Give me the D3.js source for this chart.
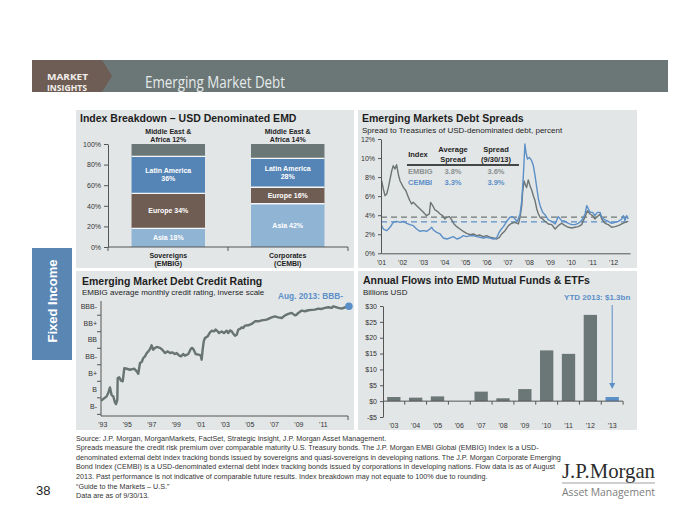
<!DOCTYPE html>
<html><head><meta charset="utf-8">
<script src="https://cdn.jsdelivr.net/npm/d3@7"></script>
<style>body{margin:0;background:#fff}svg{display:block}</style>
</head><body>
<script>
// ---------------- DATA ----------------
const breakdownCategories = ["Sovereigns|(EMBIG)", "Corporates|(CEMBI)"];
const breakdownRegions = ["Asia", "Europe", "Latin America", "Middle East & Africa"];
const asiaShare = [18, 42];
const europeShare = [34, 16];
const latamShare = [36, 28];
const meaShare = [12, 14];
const breakdownTicks = [0, 20, 40, 60, 80, 100];

const embigDates = [2001.03,2001.11,2001.19,2001.27,2001.35,2001.43,2001.51,2001.58,2001.66,2001.74,2001.82,2001.90,2001.98,2002.06,2002.18,2002.30,2002.37,2002.45,2002.53,2002.69,2002.85,2003.01,2003.16,2003.29,2003.35,2003.45,2003.56,2003.67,2003.80,2003.92,2004.03,2004.11,2004.24,2004.35,2004.46,2004.59,2004.74,2004.90,2005.06,2005.22,2005.38,2005.53,2005.69,2005.85,2006.01,2006.17,2006.32,2006.48,2006.61,2006.72,2006.88,2007.04,2007.19,2007.35,2007.51,2007.59,2007.67,2007.71,2007.78,2007.84,2007.90,2007.98,2008.06,2008.14,2008.22,2008.30,2008.38,2008.46,2008.54,2008.66,2008.77,2008.93,2009.09,2009.25,2009.40,2009.56,2009.72,2009.88,2010.04,2010.19,2010.35,2010.51,2010.67,2010.78,2010.91,2011.03,2011.14,2011.25,2011.38,2011.46,2011.62,2011.77,2011.93,2012.09,2012.25,2012.41,2012.56,2012.72];
const embigSpread = [7.62,6.75,6.05,6.22,6.92,7.80,8.67,9.20,8.85,9.30,8.32,7.62,7.27,6.92,6.57,5.87,5.52,5.17,5.35,5.00,4.65,4.30,3.95,4.13,5.35,5.00,4.55,4.41,4.13,3.95,3.60,3.78,3.85,3.50,3.08,2.80,2.55,2.31,2.10,1.96,2.03,1.85,1.92,1.75,1.85,1.68,1.61,1.50,1.68,2.03,2.38,2.90,3.15,3.25,3.08,3.78,5.00,6.40,7.60,7.20,6.90,7.70,7.10,6.64,6.05,5.52,4.65,4.13,3.78,3.60,3.36,3.08,3.01,2.55,2.90,3.15,2.90,2.73,2.66,2.73,2.80,3.01,3.85,4.48,4.13,3.95,3.60,3.85,4.13,3.60,3.15,3.01,2.73,2.80,2.90,3.08,3.25,3.36];
const cembiDates = [2001.03,2001.11,2001.27,2001.43,2001.58,2001.74,2001.90,2002.06,2002.22,2002.37,2002.53,2002.69,2002.85,2003.01,2003.16,2003.32,2003.40,2003.48,2003.64,2003.80,2003.95,2004.11,2004.27,2004.43,2004.59,2004.74,2004.90,2005.06,2005.22,2005.38,2005.53,2005.69,2005.85,2006.01,2006.17,2006.32,2006.48,2006.56,2006.67,2006.80,2006.96,2007.11,2007.24,2007.35,2007.46,2007.59,2007.67,2007.75,2007.82,2007.87,2007.94,2008.03,2008.14,2008.22,2008.30,2008.38,2008.46,2008.54,2008.66,2008.77,2008.93,2009.09,2009.25,2009.40,2009.56,2009.72,2009.88,2010.04,2010.19,2010.35,2010.51,2010.67,2010.75,2010.83,2010.91,2011.03,2011.14,2011.25,2011.38,2011.46,2011.62,2011.77,2011.93,2012.09,2012.25,2012.41,2012.49,2012.56,2012.64,2012.72];
const cembiSpread = [2.90,2.55,2.38,2.73,3.25,3.36,3.25,3.36,3.15,3.01,2.90,2.55,2.31,2.38,2.31,2.55,2.73,2.45,2.20,2.03,1.61,1.50,1.61,1.75,1.50,1.61,1.85,1.75,1.85,1.85,1.75,1.68,1.61,1.68,1.61,1.50,1.61,2.03,2.45,2.80,3.36,3.78,3.85,3.60,3.36,4.13,5.52,8.32,11.47,10.59,9.90,10.07,9.72,9.20,8.15,6.92,5.70,5.00,4.30,4.06,3.50,3.36,3.08,3.85,3.43,3.36,3.15,3.01,3.01,3.15,3.43,4.13,5.00,4.65,4.30,4.30,3.95,4.30,4.30,3.78,3.50,3.36,3.15,3.25,3.36,3.60,3.95,3.43,3.95,3.60];
const spreadAverages = [3.8, 3.3];
const spreadLatest = [3.6, 3.9];
const spreadIndexNames = ["EMBIG", "CEMBI"];
const spreadTicks = [0, 2, 4, 6, 8, 10, 12];
const spreadYears = [2001,2002,2003,2004,2005,2006,2007,2008,2009,2010,2011,2012];
const spreadYearLabels = ["'01","'02","'03","'04","'05","'06","'07","'08","'09","'10","'11","'12"];

const ratingDates = [1993.36,1993.82,1993.95,1994.09,1994.23,1994.36,1994.50,1994.58,1994.69,1994.72,1994.85,1994.99,1995.13,1995.26,1995.46,1995.72,1995.91,1996.08,1996.27,1996.40,1996.54,1996.68,1996.81,1996.95,1997.09,1997.22,1997.36,1997.49,1997.62,1997.76,1997.90,1998.17,1998.36,1998.58,1998.80,1998.99,1999.17,1999.39,1999.53,1999.72,1999.88,2000.07,2000.21,2000.48,2000.70,2000.81,2000.92,2001.08,2001.30,2001.49,2001.57,2001.65,2001.74,2001.84,2002.06,2002.25,2002.39,2002.60,2002.71,2002.88,2002.98,2003.20,2003.39,2003.61,2003.74,2003.88,2004.02,2004.15,2004.29,2004.43,2004.56,2004.70,2004.84,2004.97,2005.10,2005.37,2005.65,2005.92,2006.19,2006.47,2006.87,2007.28,2007.55,2007.82,2008.10,2008.37,2008.64,2008.91,2009.18,2009.32,2009.45,2009.73,2010.00,2010.27,2010.55,2010.81,2011.08,2011.36,2011.63,2011.90,2012.18,2012.31,2012.72,2012.99,2013.26,2013.58];
const ratingValues = [1.32,1.59,1.79,2.13,1.65,1.59,1.22,1.12,1.38,2.70,2.74,2.54,2.50,3.30,3.26,3.20,3.24,3.26,3.10,2.96,3.61,3.67,3.91,4.01,4.21,4.31,4.45,4.68,4.41,4.52,4.58,4.52,4.41,4.21,4.31,4.21,4.25,4.15,4.21,4.07,4.01,4.15,4.05,4.15,4.48,4.52,4.41,4.15,4.11,4.07,3.81,4.41,4.92,5.12,5.22,5.46,5.56,5.52,5.63,5.52,5.42,5.52,5.42,5.56,5.42,5.58,5.52,5.38,5.26,5.32,5.63,5.67,5.77,5.73,5.87,5.89,5.97,6.13,6.13,6.19,6.23,6.37,6.43,6.37,6.33,6.49,6.58,6.64,6.49,6.54,6.64,6.78,6.74,6.80,6.82,6.84,6.90,6.88,6.94,6.98,6.94,7.04,6.94,6.90,6.98,7.04];
const ratingLabels = ["B-", "B", "B+", "BB-", "BB", "BB+", "BBB-"];
const ratingYears = [1993,1995,1997,1999,2001,2003,2005,2007,2009,2011];
const ratingYearLabels = ["'93","'95","'97","'99","'01","'03","'05","'07","'09","'11"];

const flowYears = ["'03","'04","'05","'06","'07","'08","'09","'10","'11","'12","'13"];
const flowValues = [1.3, 1.1, 1.5, 0, 3.0, 0.9, 3.8, 16.0, 14.9, 27.2, 1.3];
const flowTicks = [-5, 0, 5, 10, 15, 20, 25, 30];

const footnoteLines = [
 "Source: J.P. Morgan, MorganMarkets, FactSet, Strategic Insight, J.P. Morgan Asset Management.",
 "Spreads measure the credit risk premium over comparable maturity U.S. Treasury bonds. The J.P. Morgan EMBI Global (EMBIG) Index is a USD-",
 "denominated external debt index tracking bonds issued by sovereigns and quasi-sovereigns in developing nations. The J.P. Morgan Corporate Emerging",
 "Bond Index (CEMBI) is a USD-denominated external debt index tracking bonds issued by corporations in developing nations. Flow data is as of August",
 "2013. Past performance is not indicative of comparable future results. Index breakdown may not equate to 100% due to rounding.",
 "\u201cGuide to the Markets \u2013 U.S.\u201d",
 "Data are as of 9/30/13."
];

// ---------------- STYLE ----------------
const F = "'Liberation Sans', Arial, Helvetica, sans-serif";
const C = {panel:"#e3e6e7", axis:"#555", text:"#1e1e1e", grey:"#6b7776", blue:"#5b8fc7",
  asia:"#8fb4d4", europe:"#6f5d54", latam:"#5585b6", mea:"#6b7776"};

const svg = d3.select("body").append("svg").attr("width",700).attr("height",525);

function T(g, x, y, s, o = {}) {
  const t = g.append("text").attr("x", x).attr("y", y).text(s)
    .attr("font-family", o.family || F).attr("font-size", o.size || 7)
    .attr("font-weight", o.weight || "normal").attr("fill", o.fill || C.text)
    .attr("text-anchor", o.anchor || "start");
  if (o.len) t.attr("textLength", o.len).attr("lengthAdjust", "spacingAndGlyphs");
  return t;
}
function styleAxis(g) {
  g.selectAll("path.domain").attr("stroke", C.axis).attr("stroke-width", 1);
  g.selectAll(".tick line").attr("stroke", C.axis);
  g.selectAll(".tick text").attr("font-family", F).attr("font-size", 7).attr("fill", "#333");
}

// ---------------- HEADER ----------------
svg.append("rect").attr("x",32).attr("y",60).attr("width",636).attr("height",32).attr("fill","#6b7777");
svg.append("polygon").attr("points","32,60 102,60 112,76 102,92 32,92").attr("fill","#6d5d54");
T(svg,47,79.5,"MARKET",{family:"'Open Sans', sans-serif",size:9.5,weight:"bold",fill:"#f3efeb",len:41});
T(svg,47,91,"INSIGHTS",{family:"'Open Sans', sans-serif",size:9.5,weight:"bold",fill:"#f3efeb",len:40});
T(svg,145,88,"Emerging Market Debt",{family:"'Open Sans', sans-serif",size:16,fill:"#e6eaea",len:140});

// side strip
svg.append("rect").attr("x",32).attr("y",248).attr("width",40).attr("height",112).attr("fill","#5a86b4");
svg.append("text").attr("transform","translate(57,301) rotate(-90)").attr("text-anchor","middle")
  .attr("font-family",F).attr("font-size",13).attr("font-weight","bold").attr("fill","#fff").text("Fixed Income");

// panels
[[76,110,278,158],[358,110,279,158],[76,271,278,159],[358,271,279,159]].forEach(p=>{
  svg.append("rect").attr("x",p[0]).attr("y",p[1]).attr("width",p[2]).attr("height",p[3]).attr("fill",C.panel);
});

// ---------------- CHART 1: Index breakdown ----------------
{
  const g = svg.append("g");
  T(g,80,122,"Index Breakdown \u2013 USD Denominated EMD",{size:10.5,weight:"bold"});
  const x = d3.scaleBand().domain(breakdownCategories).range([108,348]).paddingInner(0.385).paddingOuter(0.197);
  const y = d3.scaleLinear().domain([0,100]).range([247,144]);
  const rows = breakdownCategories.map((c,i)=>({cat:c, "Asia":asiaShare[i], "Europe":europeShare[i], "Latin America":latamShare[i], "Middle East & Africa":meaShare[i]}));
  const stack = d3.stack().keys(breakdownRegions)(rows);
  const cols = [C.asia, C.europe, C.latam, C.mea];
  stack.forEach((layer,li)=>{
    g.selectAll(null).data(layer).enter().append("rect")
      .attr("x", d=>x(d.data.cat)).attr("width", x.bandwidth())
      .attr("y", d=>y(d[1])).attr("height", d=>y(d[0])-y(d[1])).attr("fill", cols[li]);
  });
  stack.slice(0,3).forEach(layer=>{
    g.selectAll(null).data(layer).enter().append("line")
      .attr("x1", d=>x(d.data.cat)).attr("x2", d=>x(d.data.cat)+x.bandwidth())
      .attr("y1", d=>y(d[1])).attr("y2", d=>y(d[1])).attr("stroke","#f4f6f7").attr("stroke-width",1.3);
  });
  stack.slice(0,3).forEach((layer,li)=>{
    layer.forEach(d=>{
      const cx = x(d.data.cat)+x.bandwidth()/2, cy = (y(d[0])+y(d[1]))/2;
      const v = d[1]-d[0];
      const o = {size:7,weight:"bold",fill:"#fff",anchor:"middle"};
      if (li===2) { T(g,cx,cy-1.5,breakdownRegions[li],o); T(g,cx,cy+6.5,v+"%",o); }
      else T(g,cx,cy+2.5,breakdownRegions[li]+" "+v+"%",o);
    });
  });
  stack[3].forEach(d=>{
    const cx = x(d.data.cat)+x.bandwidth()/2, v = d[1]-d[0];
    const o = {size:7,weight:"bold",anchor:"middle"};
    T(g,cx,133.5,"Middle East &",o); T(g,cx,141.5,"Africa "+v+"%",o);
  });
  const ya = g.append("g").attr("transform","translate(108,0)")
    .call(d3.axisLeft(y).tickValues(breakdownTicks).tickFormat(d=>d+"%").tickSize(4).tickSizeOuter(0));
  styleAxis(ya);
  g.append("line").attr("x1",108).attr("x2",348).attr("y1",247).attr("y2",247).attr("stroke",C.axis);
  [108, (x(breakdownCategories[0])+x.bandwidth()+x(breakdownCategories[1]))/2, 348].forEach(px=>{
    g.append("line").attr("x1",px).attr("x2",px).attr("y1",247).attr("y2",251).attr("stroke",C.axis);
  });
  breakdownCategories.forEach(c=>{
    const cx = x(c)+x.bandwidth()/2, parts = c.split("|");
    T(g,cx,258,parts[0],{size:7,weight:"bold",anchor:"middle"});
    T(g,cx,266,parts[1],{size:7,weight:"bold",anchor:"middle"});
  });
}

// ---------------- CHART 2: Spreads ----------------
{
  const g = svg.append("g");
  T(g,362,122,"Emerging Markets Debt Spreads",{size:10.5,weight:"bold"});
  T(g,362,132.5,"Spread to Treasuries of USD-denominated debt, percent",{size:8});
  const x = d3.scaleLinear().domain([2001,2012.8]).range([381,630]);
  const y = d3.scaleLinear().domain([0,12]).range([253.3,139]);
  [[spreadAverages[0],"#6f7776"],[spreadAverages[1],C.blue]].forEach(a=>{
    g.append("line").attr("x1",381).attr("x2",630).attr("y1",y(a[0])).attr("y2",y(a[0]))
      .attr("stroke",a[1]).attr("stroke-width",1.3).attr("stroke-dasharray","6,4");
  });
  const line = d3.line().x(d=>x(d[0])).y(d=>y(d[1]));
  g.append("path").datum(embigDates.map((d,i)=>[d,embigSpread[i]])).attr("d",line)
    .attr("fill","none").attr("stroke","#6c7573").attr("stroke-width",1.4).attr("stroke-linejoin","round");
  g.append("path").datum(cembiDates.map((d,i)=>[d,cembiSpread[i]])).attr("d",line)
    .attr("fill","none").attr("stroke",C.blue).attr("stroke-width",1.4).attr("stroke-linejoin","round");
  const ya = g.append("g").attr("transform","translate(381,0)")
    .call(d3.axisLeft(y).tickValues(spreadTicks).tickFormat(d=>d+"%").tickSize(3).tickSizeOuter(0));
  styleAxis(ya);
  const xa = g.append("g").attr("transform","translate(0,253.3)")
    .call(d3.axisBottom(x).tickValues(spreadYears).tickFormat((d,i)=>spreadYearLabels[i]).tickSize(0).tickPadding(7).tickSizeOuter(0));
  styleAxis(xa);
  const hb = {size:7.5,weight:"bold",anchor:"middle"};
  T(g,418,156.5,"Index",hb);
  T(g,453,151.5,"Average",hb); T(g,453,161.5,"Spread",hb);
  T(g,496,151.5,"Spread",hb); T(g,496,161.5,"(9/30/13)",hb);
  g.append("line").attr("x1",407).attr("x2",519).attr("y1",165).attr("y2",165).attr("stroke","#111").attr("stroke-width",1.3);
  const rowCols = ["#8a9190", C.blue];
  spreadIndexNames.forEach((n,i)=>{
    const yy = 173.5 + i*11.5;
    T(g,408,yy,n,{size:7.5,weight:"bold",fill:rowCols[i]});
    T(g,453,yy,spreadAverages[i].toFixed(1)+"%",{size:7.5,weight:"bold",fill:rowCols[i],anchor:"middle"});
    T(g,496,yy,spreadLatest[i].toFixed(1)+"%",{size:7.5,weight:"bold",fill:rowCols[i],anchor:"middle"});
  });
}

// ---------------- CHART 3: Credit rating ----------------
{
  const g = svg.append("g");
  T(g,82,285,"Emerging Market Debt Credit Rating",{size:10.5,weight:"bold"});
  T(g,82,295,"EMBIG average monthly credit rating, inverse scale",{size:8});
  const x = d3.scaleLinear().domain([1993,2013.58]).range([96.6,348.9]);
  const y = d3.scaleLinear().domain([0.4,7.36]).range([416,301]);
  g.append("line").attr("x1",101).attr("x2",101).attr("y1",301).attr("y2",416).attr("stroke",C.axis);
  g.append("line").attr("x1",101).attr("x2",348).attr("y1",416).attr("y2",416).attr("stroke",C.axis);
  g.append("line").attr("x1",348).attr("x2",348).attr("y1",416).attr("y2",420).attr("stroke",C.axis);
  ratingLabels.forEach((l,i)=>{
    T(g,97,y(i+1)+2.5,l,{size:7,fill:"#333",anchor:"end"});
    g.append("line").attr("x1",97).attr("x2",101).attr("y1",y(i+0.5)).attr("y2",y(i+0.5)).attr("stroke",C.axis);
  });
  ratingYears.forEach((yr,i)=>{
    T(g,x(yr+0.5),426.5,ratingYearLabels[i],{size:7,fill:"#333",anchor:"middle"});
  });
  const line = d3.line().x(d=>x(d[0])).y(d=>y(d[1]));
  g.append("path").datum(ratingDates.map((d,i)=>[d,ratingValues[i]])).attr("d",line)
    .attr("fill","none").attr("stroke","#687472").attr("stroke-width",2.4).attr("stroke-linejoin","round");
  const last = ratingDates.length-1;
  g.append("circle").attr("cx",x(ratingDates[last])).attr("cy",y(ratingValues[last])).attr("r",3.8).attr("fill",C.blue);
  T(g,343,299,"Aug. 2013: BBB-",{size:8.3,weight:"bold",fill:C.blue,anchor:"end"});
}

// ---------------- CHART 4: Flows ----------------
{
  const g = svg.append("g");
  T(g,363,284,"Annual Flows into EMD Mutual Funds & ETFs",{size:10.5,weight:"bold"});
  T(g,363,295,"Billions USD",{size:8});
  const x = d3.scaleBand().domain(flowYears).range([383,623]).paddingInner(0.39).paddingOuter(0.19);
  const y = d3.scaleLinear().domain([-5,30]).range([417,306]);
  g.selectAll(null).data(flowYears).enter().append("rect")
    .attr("x",d=>x(d)).attr("width",x.bandwidth())
    .attr("y",(d,i)=>y(Math.max(0,flowValues[i]))).attr("height",(d,i)=>Math.abs(y(0)-y(flowValues[i])))
    .attr("fill",(d,i)=>i===flowYears.length-1?C.blue:C.grey);
  const ya = g.append("g").attr("transform","translate(383,0)")
    .call(d3.axisLeft(y).tickValues(flowTicks).tickFormat(d=>(d<0?"-$":"$")+Math.abs(d)).tickSize(3).tickSizeOuter(0));
  styleAxis(ya);
  g.append("line").attr("x1",383).attr("x2",623).attr("y1",y(0)).attr("y2",y(0)).attr("stroke",C.axis);
  const step = x.step();
  flowYears.forEach((d,i)=>{
    const bx = x(d)+x.bandwidth()/2 + step/2;
    g.append("line").attr("x1",bx).attr("x2",bx).attr("y1",y(0)).attr("y2",y(0)+3.5).attr("stroke",C.axis);
    T(g,x(d)+x.bandwidth()/2,427.5,d,{size:7,fill:"#333",anchor:"middle"});
  });
  const lx = x(flowYears[flowYears.length-1])+x.bandwidth()/2;
  T(g,lx-15,300,"YTD 2013: $1.3bn",{size:8,weight:"bold",fill:C.blue,anchor:"middle"});
  g.append("line").attr("x1",lx).attr("x2",lx).attr("y1",305).attr("y2",384).attr("stroke",C.blue).attr("stroke-width",1);
  g.append("polygon").attr("points",`${lx-3},383 ${lx+3},383 ${lx},389`).attr("fill",C.blue);
}

// ---------------- FOOTER ----------------
footnoteLines.forEach((l,i)=>T(svg,76,440.5+i*9.6,l,{size:7.2,fill:"#333"}));
T(svg,36,495,"38",{size:13,fill:"#222"});
T(svg,562,478,"J.P.Morgan",{family:"'Liberation Serif', 'Times New Roman', serif",size:21,fill:"#2d2d2d",len:93});
svg.append("line").attr("x1",562).attr("x2",655).attr("y1",483).attr("y2",483).attr("stroke","#888").attr("stroke-width",0.8);
T(svg,562,495.5,"Asset Management",{family:"'Open Sans', sans-serif",size:10,fill:"#7d7d7d",len:93});
</script>
</body></html>
